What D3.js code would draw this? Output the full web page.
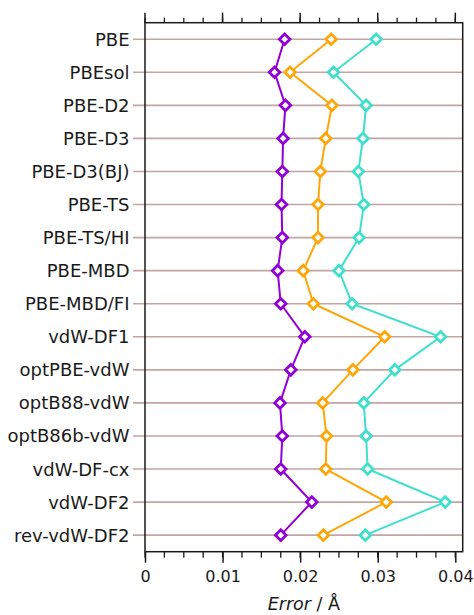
<!DOCTYPE html>
<html>
<head>
<meta charset="utf-8">
<script src="https://cdn.jsdelivr.net/npm/d3@7"></script>
<style>
  html, body { margin: 0; padding: 0; background: #fff; }
  svg { display: block; }
  text { font-family: "DejaVu Sans", Verdana, sans-serif; fill: #1a1a1a; }
</style>
</head>
<body>
<svg id="chart" width="474" height="615"></svg>
<script>
const categories = ["PBE", "PBEsol", "PBE-D2", "PBE-D3", "PBE-D3(BJ)", "PBE-TS", "PBE-TS/HI",
  "PBE-MBD", "PBE-MBD/FI", "vdW-DF1", "optPBE-vdW", "optB88-vdW", "optB86b-vdW",
  "vdW-DF-cx", "vdW-DF2", "rev-vdW-DF2"];
const purpleSeries = [0.0180, 0.0167, 0.0181, 0.0178, 0.0177, 0.0176, 0.0177, 0.0171, 0.0175,
  0.0206, 0.0188, 0.0174, 0.0177, 0.0175, 0.0215, 0.0175];
const orangeSeries = [0.0240, 0.0187, 0.0241, 0.0233, 0.0226, 0.0223, 0.0223, 0.0204, 0.0217,
  0.0309, 0.0268, 0.0229, 0.0234, 0.0233, 0.0311, 0.0230];
const tealSeries = [0.0298, 0.0243, 0.0285, 0.0281, 0.0275, 0.0282, 0.0276, 0.0250, 0.0267,
  0.0381, 0.0322, 0.0282, 0.0285, 0.0287, 0.0387, 0.0284];
const xTicks = [0, 0.01, 0.02, 0.03, 0.04];
const xTickLabels = ["0", "0.01", "0.02", "0.03", "0.04"];
const xMinorTicks = d3.range(0, 0.04001, 0.0025);

const series = [
  { name: "series1", values: purpleSeries, color: "#9100d6" },
  { name: "series2", values: orangeSeries, color: "#ffa609" },
  { name: "series3", values: tealSeries, color: "#40dfcc" }
];

const svg = d3.select("#chart");
const margin = { top: 22.7, right: 11.3, bottom: 63.3, left: 145 };
const W = 474 - margin.left - margin.right;
const H = 615 - margin.top - margin.bottom;
const g = svg.append("g").attr("transform", `translate(${margin.left},${margin.top})`);

const x = d3.scaleLinear().domain([0, 0.04]).range([0, 310.3]);
const y = d3.scalePoint().domain(categories).range([0, H]).padding(0.5);

// gridlines + left ticks
g.append("g").selectAll("line").data(categories).join("line")
  .attr("x1", -12).attr("x2", W)
  .attr("y1", d => y(d)).attr("y2", d => y(d))
  .attr("stroke", "#c3a5a5").attr("stroke-width", 1.6);

// category labels
g.append("g").selectAll("text").data(categories).join("text")
  .attr("x", -15.5).attr("y", d => y(d)).attr("dy", "0.36em")
  .attr("text-anchor", "end").attr("font-size", "18px")
  .text(d => d);

// frame
g.append("rect").attr("x", 0).attr("y", 0).attr("width", W).attr("height", H)
  .attr("fill", "none").attr("stroke", "#1a1a1a").attr("stroke-width", 1.5);

// top ticks
const topG = g.append("g");
topG.selectAll("line.minor").data(xMinorTicks).join("line")
  .attr("x1", d => x(d)).attr("x2", d => x(d)).attr("y1", 0).attr("y2", -5)
  .attr("stroke", "#1a1a1a").attr("stroke-width", 1.3);
topG.selectAll("line.major").data(xTicks).join("line")
  .attr("x1", d => x(d)).attr("x2", d => x(d)).attr("y1", 0).attr("y2", -10)
  .attr("stroke", "#1a1a1a").attr("stroke-width", 1.5);

// bottom axis
const xAxis = d3.axisBottom(x).tickValues(xTicks).tickSize(11).tickPadding(8)
  .tickFormat((d, i) => xTickLabels[i]);
const bx = g.append("g").attr("transform", `translate(0,${H})`).call(xAxis);
bx.select(".domain").remove();
bx.selectAll(".tick line").attr("stroke", "#1a1a1a").attr("stroke-width", 1.5);
bx.selectAll(".tick text").attr("font-size", "16px").attr("font-family", "DejaVu Sans, sans-serif").attr("fill", "#1a1a1a");
bx.append("g").selectAll("line").data(xMinorTicks).join("line")
  .attr("x1", d => x(d)).attr("x2", d => x(d)).attr("y1", 0).attr("y2", 6)
  .attr("stroke", "#1a1a1a").attr("stroke-width", 1.3);

// axis title
const title = g.append("text").attr("x", W / 2).attr("y", H + 58)
  .attr("text-anchor", "middle").attr("font-size", "17.5px");
title.append("tspan").attr("font-style", "italic").text("Error");
title.append("tspan").text(" / Å");

// series
const line = d3.line().x(d => x(d.v)).y(d => y(d.c));
const diamond = d3.symbol().type(d3.symbolDiamond2).size(72);
series.forEach(s => {
  const pts = s.values.map((v, i) => ({ v, c: categories[i] }));
  g.append("path").datum(pts).attr("d", line)
    .attr("fill", "none").attr("stroke", s.color).attr("stroke-width", 2);
  g.append("g").selectAll("path").data(pts).join("path")
    .attr("d", diamond)
    .attr("transform", d => `translate(${x(d.v)},${y(d.c)})`)
    .attr("fill", "#fff").attr("stroke", s.color).attr("stroke-width", 2.8);
});
</script>
</body>
</html>
